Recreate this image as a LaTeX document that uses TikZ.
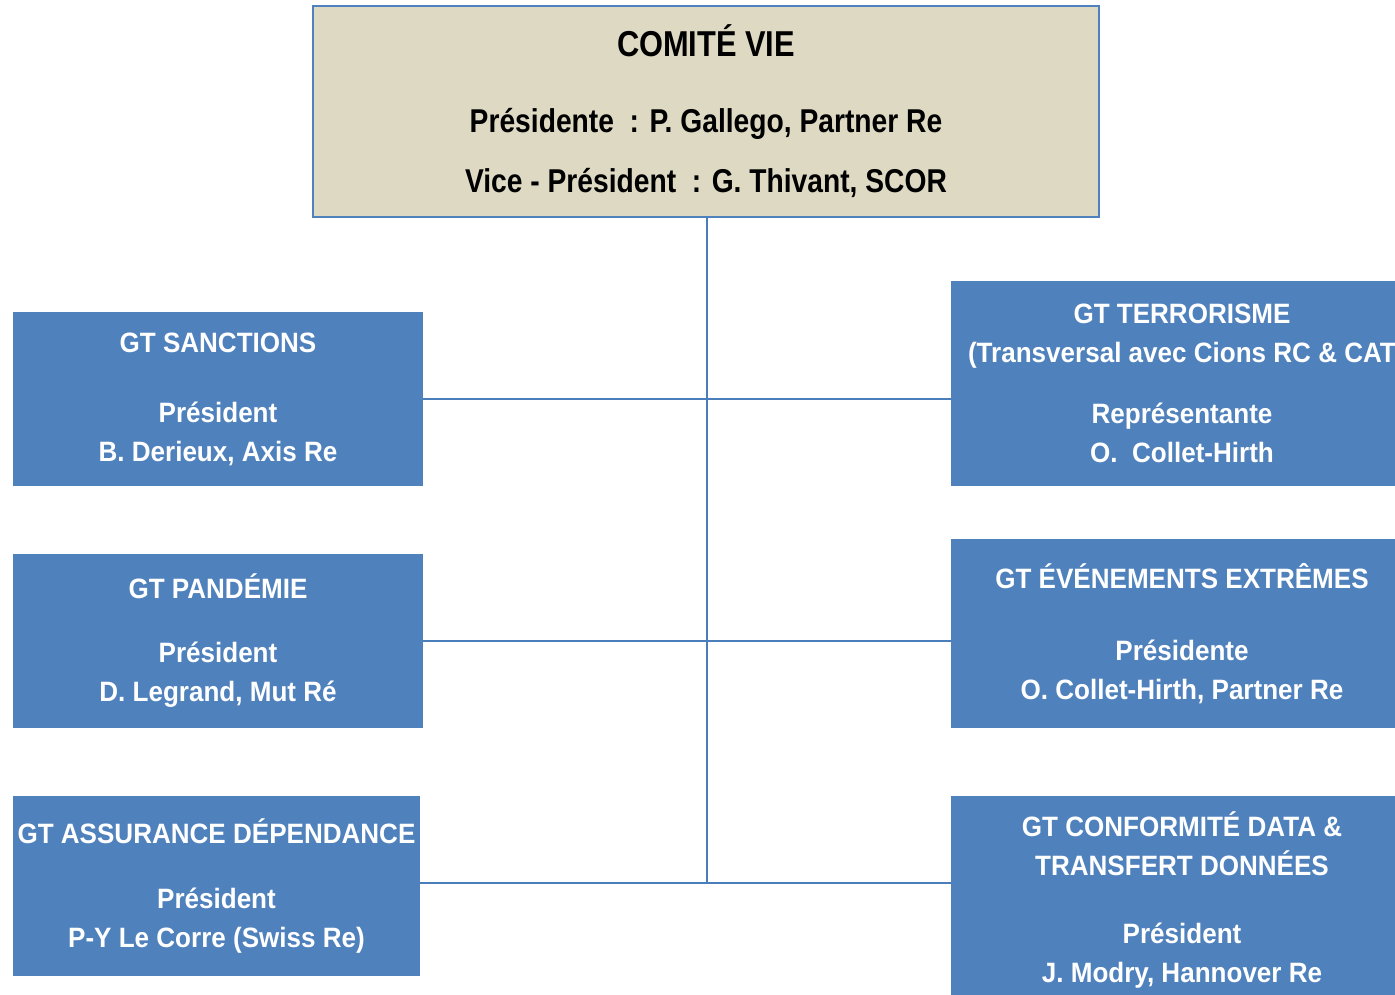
\documentclass[tikz,border=0pt]{standalone}
\usepackage{fontspec}
\setmainfont{Liberation Sans}
\newfontfamily\narrowfont[FakeStretch=0.855]{Liberation Sans}
\newfontfamily\gtfont[FakeStretch=0.93]{Liberation Sans}
\definecolor{gtblue}{HTML}{4F81BD}
\definecolor{linkblue}{HTML}{4A7EBB}
\definecolor{comitebeige}{HTML}{DDD9C3}
\tikzset{
  gtbox/.style={rectangle, fill=gtblue, text=white, align=center, inner sep=0pt,
    font=\gtfont\bfseries\fontsize{28}{39}\selectfont},
  comitebox/.style={rectangle, fill=comitebeige, draw=gtblue, line width=2pt, align=center,
    inner sep=0pt, font=\narrowfont\bfseries\fontsize{33}{60}\selectfont},
  link/.style={draw=linkblue, line width=2pt}
}
\begin{document}
\begin{tikzpicture}[x=1pt,y=-1pt]
	\useasboundingbox (0,0) rectangle (1395,995);
	\clip (0,0) rectangle (1395,995);

	\node at (706,111.5) [comitebox, minimum width=786pt, minimum height=211pt] (comite)
		{{\fontsize{36}{60}\selectfont COMIT\'E VIE}\\[16pt]Pr\'esidente~~: P. Gallego, Partner Re\\Vice - Pr\'esident~~: G. Thivant, SCOR};

	\node at (218,399) [gtbox, minimum width=410pt, minimum height=174pt] (sanctions)
		{GT SANCTIONS\\[31pt]Pr\'esident\\B. Derieux, Axis Re};
        \node at (218,641) [gtbox, minimum width=410pt, minimum height=174pt] (pandemie)
		{GT PAND\'EMIE\\[25pt]Pr\'esident\\D. Legrand, Mut R\'e};
        \node at (216.5,886) [gtbox, minimum width=407pt, minimum height=180pt] (dependance)
		{GT ASSURANCE D\'EPENDANCE\\[26pt]Pr\'esident\\P-Y Le Corre (Swiss Re)};

	\node at (1182,383.5) [gtbox, minimum width=462pt, minimum height=205pt] (terrorisme)
		{GT TERRORISME\\(Transversal avec Cions RC \& CAT\\[22pt]Repr\'esentante\\O.\ \ Collet-Hirth};
        \node at (1182,633.5) [gtbox, minimum width=462pt, minimum height=189pt] (extremes)
		{GT \'EV\'ENEMENTS EXTR\^EMES\\[33pt]Pr\'esidente\\O. Collet-Hirth, Partner Re};
        \node at (1182,900) [gtbox, minimum width=462pt, minimum height=208pt] (donnees)
		{GT CONFORMIT\'E DATA \&\\TRANSFERT DONN\'EES\\[29pt]Pr\'esident\\J. Modry, Hannover Re};

	\coordinate (trunk) at (707,883);

	\draw [link] (comite.south -| trunk) -- (trunk);
	\draw [link] (sanctions.east) -- (sanctions.east -| terrorisme.west);
	\draw [link] (pandemie.east) -- (pandemie.east -| extremes.west);
	\draw [link] (dependance.east |- trunk) -- (trunk -| donnees.west);
\end{tikzpicture}
\end{document}
